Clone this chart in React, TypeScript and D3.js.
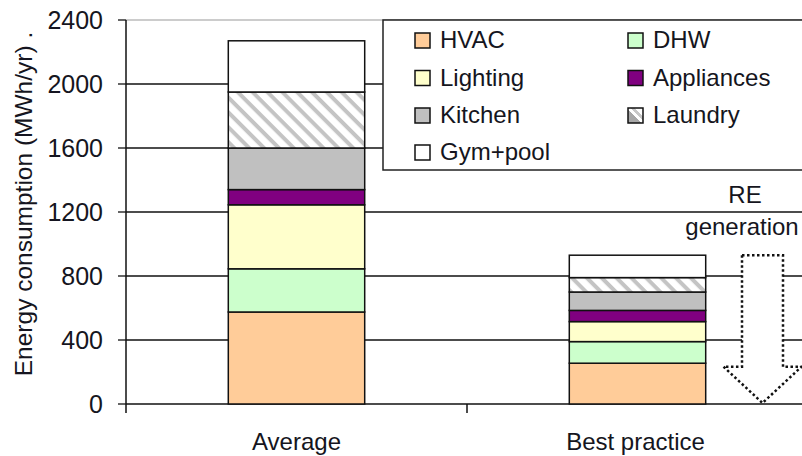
import React from "react";
import * as d3 from "d3";

const categories = ["Average", "Best practice"];
const seriesNames = ["HVAC", "DHW", "Lighting", "Appliances", "Kitchen", "Laundry", "Gym+pool"];
const hvac = [575, 255];
const dhw = [270, 135];
const lighting = [400, 125];
const appliances = [95, 70];
const kitchen = [260, 115];
const laundry = [350, 90];
const gymPool = [320, 140];
const yTicks = [0, 400, 800, 1200, 1600, 2000, 2400];
const yLabel = "Energy consumption (MWh/yr) .";
const reLabel = ["RE", "generation"];
const arrowTop = 930; // best-practice total, arrow starts here
const arrowHeadTop = 233;

const seriesValues = [hvac, dhw, lighting, appliances, kitchen, laundry, gymPool];
const fills = ["#FFCC99", "#CCFFCC", "#FFFFCC", "#800080", "#C0C0C0", "url(#hatch)", "#FFFFFF"];

const W = 802;
const H = 456;
const FONT = "'Liberation Sans', Arial, sans-serif";

export default function App() {
  const rows = categories.map((c, i) => {
    const r: Record<string, any> = { cat: c };
    seriesNames.forEach((s, j) => (r[s] = seriesValues[j][i]));
    return r;
  });
  const stacked = d3.stack().keys(seriesNames)(rows as any);

  const x = d3.scaleBand<string>().domain(categories).range([126, 808]).padding(0);
  const y = d3.scaleLinear().domain([0, 2400]).range([404, 20]);
  const barW = x.bandwidth() * 0.4;
  const left = 126;

  const bx = (x("Best practice") as number) + x.bandwidth() / 2;
  const ac = bx + 125;
  const shaftHalf = 20.5;
  const headHalf = 39;
  const arrowPath = [
    [ac - shaftHalf, y(arrowTop)],
    [ac + shaftHalf, y(arrowTop)],
    [ac + shaftHalf, y(arrowHeadTop)],
    [ac + headHalf, y(arrowHeadTop)],
    [ac, y(0) - 1],
    [ac - headHalf, y(arrowHeadTop)],
    [ac - shaftHalf, y(arrowHeadTop)],
  ];
  const line = d3.line();

  const legendCols = [415, 628];
  const legendBaselines = [48, 85.5, 123, 160];

  return (
    <svg width={W} height={H} style={{ display: "block", position: "absolute", left: 0, top: 0 }} fontFamily={FONT}>
      <defs>
        <pattern id="hatch" patternUnits="userSpaceOnUse" width="10.5" height="10.5" patternTransform="rotate(45)">
          <rect width="10.5" height="10.5" fill="#fff" />
          <rect x="0" y="0" width="10.5" height="4" fill="#C4C4C4" />
        </pattern>
        <linearGradient id="hatchS" x1="0" y1="1" x2="1" y2="0">
          <stop offset="0.45" stopColor="#A8A8A8" />
          <stop offset="0.45" stopColor="#fff" />
          <stop offset="0.6" stopColor="#fff" />
          <stop offset="0.6" stopColor="#C8C8C8" />
          <stop offset="0.72" stopColor="#C8C8C8" />
          <stop offset="0.72" stopColor="#fff" />
        </linearGradient>
      </defs>
      <rect width={W} height={H} fill="#fff" />

      <line x1={left} x2={W} y1={y(2400)} y2={y(2400)} stroke="#9a9a9a" strokeWidth={1.2} />
      {yTicks.filter((t) => t !== 2400).map((t) => (
        <line key={t} x1={left} x2={W} y1={y(t)} y2={y(t)} stroke="#111" strokeWidth={1.3} />
      ))}
      {yTicks.map((t) => (
        <g key={"yt" + t}>
          <line x1={left - 8} x2={left} y1={y(t)} y2={y(t)} stroke="#111" strokeWidth={1.3} />
          <text x={103} y={y(t) + 9} textAnchor="end" fontSize={25} fill="#151520">
            {t}
          </text>
        </g>
      ))}
      <line x1={left} x2={left} y1={y(2400)} y2={413} stroke="#111" strokeWidth={1.5} />
      {categories.map((c, i) => (
        <line key={"xt" + i} x1={(x(c) as number) + x.bandwidth()} x2={(x(c) as number) + x.bandwidth()} y1={y(0)} y2={413} stroke="#111" strokeWidth={1.5} />
      ))}

      {stacked.map((s, j) =>
        s.map((d, i) => {
          const cx = (x(categories[i]) as number) + x.bandwidth() / 2;
          return (
            <rect
              key={j + "-" + i}
              x={cx - barW / 2}
              y={y(d[1])}
              width={barW}
              height={y(d[0]) - y(d[1])}
              fill={fills[j]}
              stroke="#111"
              strokeWidth={1.5}
            />
          );
        })
      )}

      {categories.map((c) => (
        <text key={c} x={(x(c) as number) + x.bandwidth() / 2 - (c === "Best practice" ? 2 : 0)} y={450} textAnchor="middle" fontSize={24} fill="#151520">
          {c}
        </text>
      ))}

      <text transform={`translate(32,204) rotate(-90)`} textAnchor="middle" fontSize={24.5} fill="#151520">
        {yLabel}
      </text>

      <rect x={383} y={20} width={440} height={150} fill="#fff" stroke="#222" strokeWidth={1.5} />
      {seriesNames.map((s, j) => {
        const col = j % 2;
        const row = Math.floor(j / 2);
        const lx = legendCols[col];
        const by = legendBaselines[row];
        return (
          <g key={"lg" + s}>
            <rect x={lx} y={by - 15} width={15} height={15} fill={j === 5 ? "url(#hatchS)" : fills[j]} stroke="#111" strokeWidth={1.5} />
            <text x={lx + 25} y={by} fontSize={24} fill="#151520">
              {s}
            </text>
          </g>
        );
      })}

      <path d={line(arrowPath as any) + "Z"} fill="#fff" stroke="#111" strokeWidth={2.5} strokeDasharray="2.5 2.5" />
      <text x={745} y={203} textAnchor="middle" fontSize={24} fill="#151520">
        {reLabel[0]}
      </text>
      <text x={742} y={235} textAnchor="middle" fontSize={24} fill="#151520">
        {reLabel[1]}
      </text>
    </svg>
  );
}
